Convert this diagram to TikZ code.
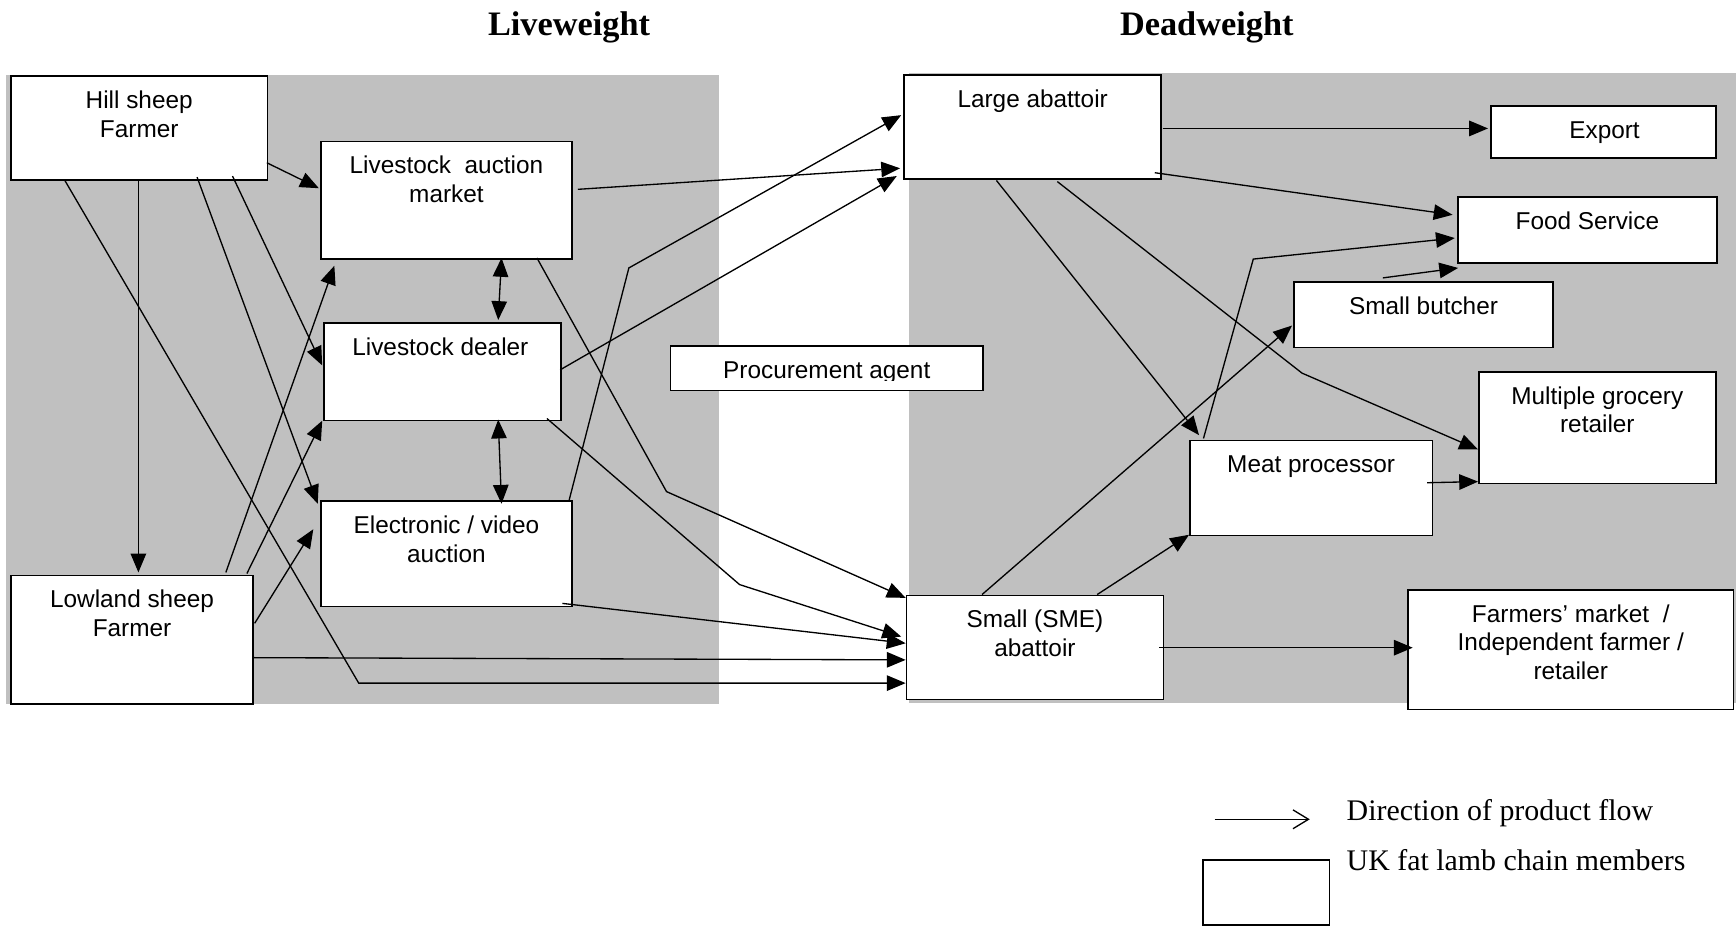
\documentclass[tikz,border=0pt]{standalone}
\usepackage{fontspec}
\setmainfont{Liberation Serif}
\newfontfamily\arialf{Liberation Sans}
\usetikzlibrary{arrows.meta,calc}
\definecolor{bggray}{RGB}{192,192,192}
\newcommand\tstrut{\rule{0pt}{8.2pt}}
\begin{document}
\begin{tikzpicture}[x=0.5pt,y=-0.5pt,
  box/.style={draw, line width=0.75pt, fill=white, inner sep=0pt, anchor=north west},
  lbl/.style={font=\arialf\fontsize{11}{13}\selectfont, align=center, inner sep=0pt, anchor=north},
  flow/.style={line width=0.6pt, -{Triangle[length=8.5pt,width=7pt]}},
  both/.style={line width=0.6pt, {Triangle[length=8.5pt,width=7pt]}-{Triangle[length=8.5pt,width=7pt]}},
  legarrow/.style={line width=0.6pt, -{Straight Barb[length=7pt,width=8.5pt,line width=0.6pt]}},
  ttl/.style={font=\bfseries\fontsize{15.5}{18}\selectfont, anchor=base, inner sep=0pt},
  leg/.style={font=\fontsize{13.5}{16}\selectfont, anchor=base west, inner sep=0pt}]
\useasboundingbox (0,0) rectangle (1568,836);
% background zones
\fill[bggray] (5,68) rectangle (649,636);
\fill[bggray] (821,66) rectangle (1568,635);
% titles
\node[ttl] (tlive) at (514,32.5) {Liveweight};
\node[ttl] (tdead) at (1090,32.5) {Deadweight};
% boxes
\node[box, minimum width=116pt, minimum height=47pt] (hill) at (9,68) {};
\node[box, minimum width=113.5pt, minimum height=53pt] (auction) at (289,127) {};
\node[box, minimum width=107pt, minimum height=44pt] (dealer) at (292,291) {};
\node[box, minimum width=113.5pt, minimum height=47.5pt] (elec) at (289,452) {};
\node[box, minimum width=109.5pt, minimum height=58pt] (lowland) at (9,519) {};
\node[box, minimum width=141pt, minimum height=20pt] (proc) at (605,312) {};
\node[box, minimum width=116pt, minimum height=47pt] (large) at (816,67) {};
\node[box, minimum width=101.5pt, minimum height=23.5pt] (export) at (1346,95) {};
\node[box, minimum width=117pt, minimum height=30pt] (food) at (1316,177) {};
\node[box, minimum width=117pt, minimum height=29.5pt] (butcher) at (1168,254) {};
\node[box, minimum width=107pt, minimum height=50.5pt] (multi) at (1335,335) {};
\node[box, minimum width=109.5pt, minimum height=43pt] (meat) at (1074,397) {};
\node[box, minimum width=116pt, minimum height=47pt] (sme) at (818,537) {};
\node[box, minimum width=147pt, minimum height=54pt] (farmers) at (1271,532) {};
% box texts
\node[lbl] (thill) at ($(hill.north)+(0,13.1)$) {\tstrut Hill sheep\\Farmer};
\node[lbl] (tauction) at ($(auction.north)+(0,13.1)$) {\tstrut Livestock\ \ auction\\market};
\node[lbl] (tdealer) at ($(dealer.north)+(-2,13.1)$) {\tstrut Livestock dealer};
\node[lbl] (telec) at ($(elec.north)+(0,13.1)$) {\tstrut Electronic / video\\auction};
\node[lbl] (tlow) at ($(lowland.north)+(0,13.1)$) {\tstrut Lowland sheep\\Farmer};
\begin{scope}
\clip (605,300) rectangle (887,343.5);
\node[lbl] (tproc) at ($(proc.north)+(0,13.1)$) {\tstrut Procurement agent};
\end{scope}
\node[lbl] (tlarge) at ($(large.north)+(0,13.1)$) {\tstrut Large abattoir};
\node[lbl] (texport) at ($(export.north)+(1,13.1)$) {\tstrut Export};
\node[lbl] (tfood) at ($(food.north)+(0,13.1)$) {\tstrut Food Service};
\node[lbl] (tbutcher) at ($(butcher.north)+(0,13.1)$) {\tstrut Small butcher};
\node[lbl] (tmulti) at ($(multi.north)+(0,13.1)$) {\tstrut Multiple grocery\\retailer};
\node[lbl] (tmeat) at ($(meat.north)+(0,13.1)$) {\tstrut Meat processor};
\node[lbl] (tsme) at ($(sme.north)+(0,13.1)$) {\tstrut Small (SME)\\abattoir};
\node[lbl] (tfarm) at ($(farmers.north)+(0,13.1)$) {\tstrut Farmers’ market\ \ /\\Independent farmer /\\retailer};
% bend points
\coordinate (k1) at (324,617);
\coordinate (k2) at (602,444);
\coordinate (k3) at (668,528);
\coordinate (k4) at (568,242);
\coordinate (k5) at (1176,337);
\coordinate (k6) at (1132,234);
% connectors: farmers
\draw[flow] ($(hill.north west)+(232,79)$) -- ($(auction.north west)+(-1,43)$);
\draw[flow] ($(hill.north west)+(116,94)$) -- ($(lowland.north west)+(116,-2)$);
\draw[flow] ($(hill.north west)+(49,94)$) -- (k1) -- ($(sme.north west)+(0,80)$);
\draw[flow] ($(hill.north west)+(169,92)$) -- ($(elec.north west)+(-2,3)$);
\draw[flow] ($(hill.north west)+(201,91)$) -- ($(dealer.north west)+(-1,39)$);
\draw[flow] ($(lowland.north west)+(195,-2)$) -- ($(auction.north west)+(13,113)$);
\draw[flow] ($(lowland.north west)+(214,-1)$) -- ($(dealer.north west)+(-1,89)$);
\draw[flow] ($(lowland.north west)+(221,44)$) -- ($(elec.north west)+(-6,26)$);
\draw[flow] ($(lowland.north west)+(219,75)$) -- ($(sme.north west)+(0,59)$);
% intermediaries
\draw[both] ($(auction.north west)+(164,106)$) -- ($(dealer.north west)+(158,-2)$);
\draw[both] ($(dealer.north west)+(158,88)$) -- ($(elec.north west)+(164,3)$);
\draw[flow] ($(auction.north west)+(233,44)$) -- ($(large.north west)+(-3,85)$);
\draw[flow] ($(auction.north west)+(196,106)$) -- (k2) -- ($(sme.north west)+(0,3)$);
\draw[flow] ($(dealer.north west)+(202,87)$) -- (k3) -- ($(sme.north west)+(-4,38)$);
\draw[flow] ($(dealer.north west)+(214,43)$) -- ($(large.north west)+(-6,92)$);
\draw[flow] ($(elec.north west)+(225,0)$) -- (k4) -- ($(large.north west)+(-2,37)$);
\draw[flow] ($(elec.north west)+(219,93)$) -- ($(sme.north west)+(0,44)$);
% deadweight side
\draw[flow] ($(large.north west)+(234,49)$) -- ($(export.north west)+(-2,21)$);
\draw[flow] ($(large.north west)+(227,89)$) -- ($(food.north west)+(-4,17)$);
\draw[flow] ($(large.north west)+(84,96)$) -- ($(meat.north west)+(9,-4)$);
\draw[flow] ($(large.north west)+(139,97)$) -- (k5) -- ($(multi.north west)+(0,71)$);
\draw[flow] ($(butcher.north west)+(81,-3)$) -- ($(food.north west)+(1,65)$);
\draw[flow] ($(meat.north west)+(13,-1)$) -- (k6) -- ($(food.north west)+(-2,38)$);
\draw[flow] ($(meat.north west)+(215,39)$) -- ($(multi.north west)+(0,100)$);
\draw[flow] ($(sme.north west)+(69,0)$) -- ($(butcher.north west)+(-1,40)$);
\draw[flow] ($(sme.north west)+(173,0)$) -- ($(meat.north west)+(0,86)$);
\draw[flow] ($(sme.north west)+(229,48)$) -- ($(farmers.north west)+(5,53)$);
% legend
\coordinate (la) at (1097,740);
\coordinate (lb) at (1183,740);
\draw[legarrow] (la) -- (lb);
\node[box, minimum width=57pt, minimum height=29.5pt] (legbox) at (1086,776) {};
\node[leg] (leg1) at (1216,741) {Direction of product flow};
\node[leg] (leg2) at (1216,786) {UK fat lamb chain members};
\end{tikzpicture}
\end{document}
